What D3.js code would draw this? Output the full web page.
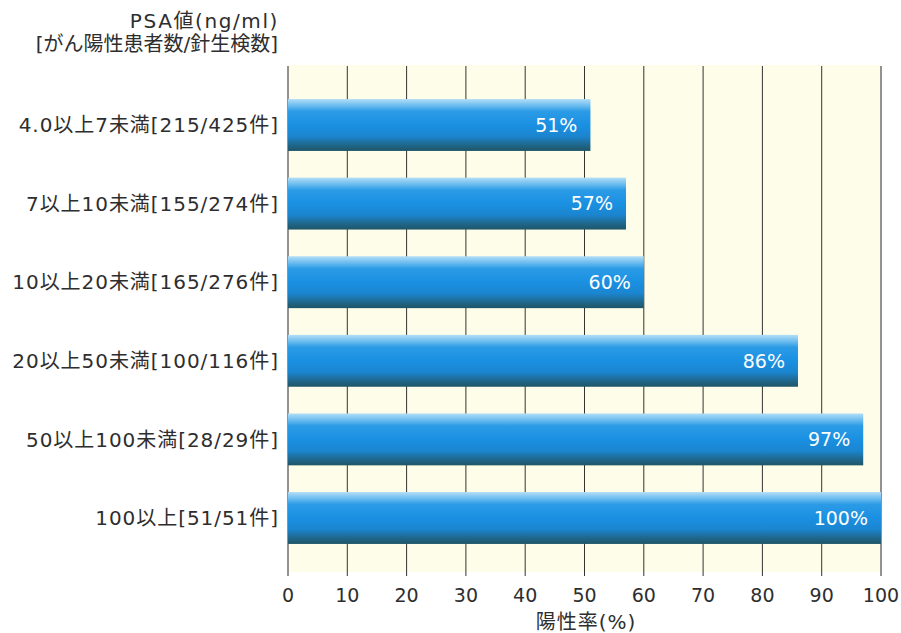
<!DOCTYPE html>
<html>
<head>
<meta charset="utf-8">
<script src="https://cdn.jsdelivr.net/npm/d3@7"></script>
<style>
  body { margin: 0; background: #fff; }
  text { font-family: "DejaVu Sans", "Noto Sans CJK JP", sans-serif; fill: #2e2e2e; }
</style>
</head>
<body>
<div id="graph"></div>
<script>
const categories = [
  "4.0以上7未満[215/425件]",
  "7以上10未満[155/274件]",
  "10以上20未満[165/276件]",
  "20以上50未満[100/116件]",
  "50以上100未満[28/29件]",
  "100以上[51/51件]"
];
const values = [51, 57, 60, 86, 97, 100];
const ticks = [0, 10, 20, 30, 40, 50, 60, 70, 80, 90, 100];

const width = 901, height = 633;
const plot = {left: 288, right: 881, top: 65, bottom: 572};

const svg = d3.select("#graph").append("svg")
  .attr("width", width).attr("height", height);

// gradient for the bars
const defs = svg.append("defs");
const grad = defs.append("linearGradient").attr("id", "barGrad")
  .attr("x1", 0).attr("y1", 0).attr("x2", 0).attr("y2", 1);
[[0, "#b3def7"], [0.12, "#6fbef0"], [0.24, "#2b9be6"], [0.5, "#1a90e2"],
 [0.72, "#1b85cf"], [0.86, "#1f6b95"], [1, "#1f5566"]]
  .forEach(([o, c]) => grad.append("stop").attr("offset", o).attr("stop-color", c));

const x = d3.scaleLinear().domain([0, 100]).range([plot.left, plot.right]);
const y = d3.scaleBand().domain(categories)
  .range([85.7, 557.3]).paddingInner(0.34).paddingOuter(0.17);

// plot background
svg.append("rect")
  .attr("x", plot.left).attr("y", plot.top)
  .attr("width", plot.right - plot.left).attr("height", plot.bottom - plot.top)
  .attr("fill", "#fdfde9");

// vertical grid lines
svg.append("g").selectAll("line").data(ticks).join("line")
  .attr("x1", d => x(d)).attr("x2", d => x(d))
  .attr("y1", plot.top + 1).attr("y2", plot.bottom + 4)
  .attr("stroke", d => (d === 0 || d === 100) ? "#777" : "#333")
  .attr("stroke-width", d => (d === 0 || d === 100) ? 1.6 : 1);

// bars
svg.append("g").selectAll("rect").data(values).join("rect")
  .attr("x", x(0))
  .attr("y", (d, i) => y(categories[i]))
  .attr("width", d => x(d) - x(0))
  .attr("height", y.bandwidth())
  .attr("fill", "url(#barGrad)");

// value labels
svg.append("g").selectAll("text").data(values).join("text")
  .attr("x", d => x(d) - 13)
  .attr("y", (d, i) => y(categories[i]) + y.bandwidth() / 2)
  .attr("dy", "0.36em")
  .attr("text-anchor", "end")
  .style("fill", "#fff")
  .style("font-size", "19px")
  .text(d => d + "%");

// category labels
svg.append("g").selectAll("text").data(categories).join("text")
  .attr("x", 279)
  .attr("y", d => y(d) + y.bandwidth() / 2)
  .attr("dy", "0.36em")
  .attr("text-anchor", "end")
  .style("font-size", "20px")
  .style("letter-spacing", "0.95px")
  .text(d => d);

// tick labels
svg.append("g").selectAll("text").data(ticks).join("text")
  .attr("x", d => x(d))
  .attr("y", 595.5)
  .attr("dy", "0.36em")
  .attr("text-anchor", "middle")
  .style("font-size", "19px")
  .text(d => d);

// axis titles
svg.append("text").attr("x", 586).attr("y", 622).attr("dy", "0.36em")
  .attr("text-anchor", "middle").style("font-size", "20px")
  .style("letter-spacing", "1px").text("陽性率(%)");
svg.append("text").attr("x", 279).attr("y", 21).attr("dy", "0.36em")
  .attr("text-anchor", "end").style("font-size", "20px")
  .style("letter-spacing", "1.6px").text("PSA値(ng/ml)");
svg.append("text").attr("x", 278).attr("y", 44).attr("dy", "0.36em")
  .attr("text-anchor", "end").style("font-size", "20px").text("[がん陽性患者数/針生検数]");
</script>
</body>
</html>
